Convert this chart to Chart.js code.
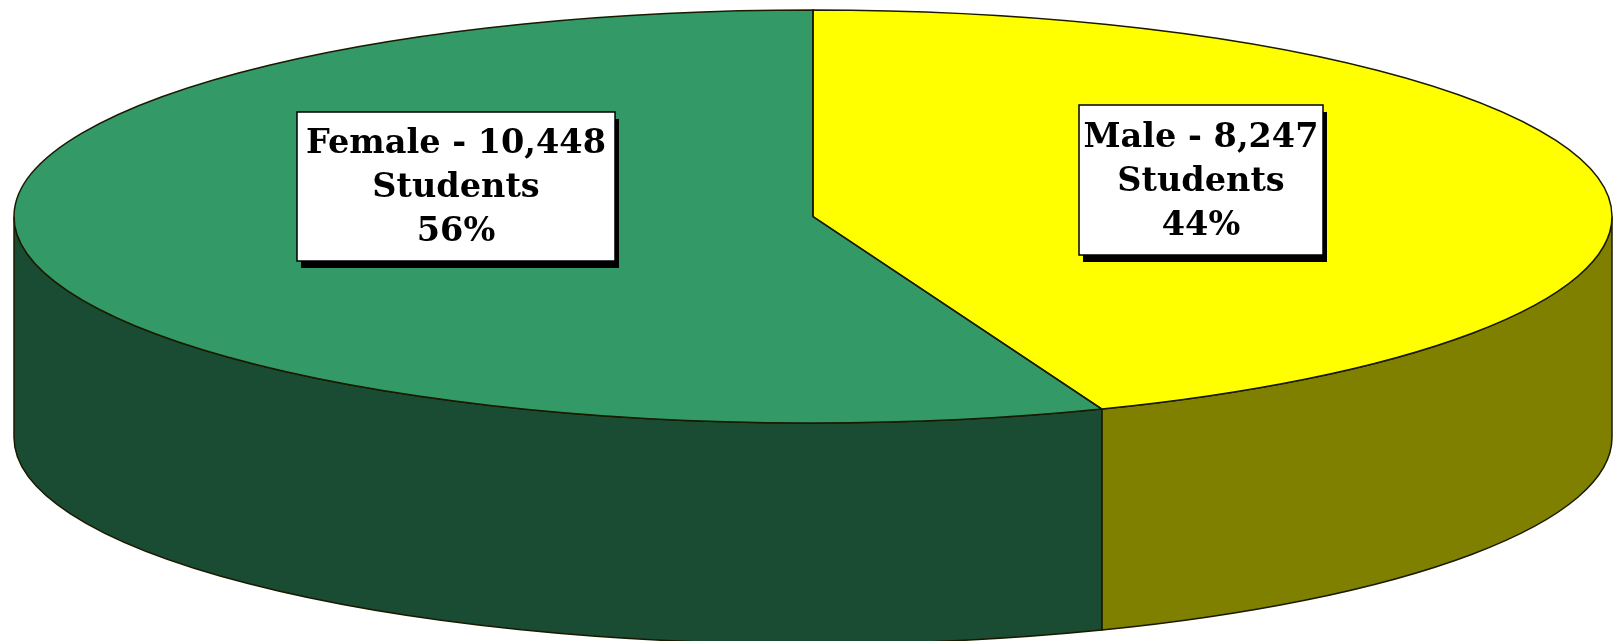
<!DOCTYPE html>
<html>
<head>
<meta charset="utf-8">
<title>Students by gender</title>
<script src="https://cdn.jsdelivr.net/npm/chart.js@4"></script>
<style>
	html, body { margin: 0; padding: 0; background: #fff; overflow: hidden; }
	canvas { display: block; filter: blur(0.6px); }
</style>
</head>
<body>
<canvas id="myCanvas" width="1614" height="641"></canvas>
<script>
// the chart values
var categories = ['Male', 'Female'];
var students = [8247, 10448];
var percents = ['44%', '56%'];
var unitLabel = 'Students';

var topColors = ['#ffff00', '#339966'];
var wallColors = ['#808000', '#1a4c33'];

// look of the fake 3D pie
var tilt = 206.5 / 799;
var depth = 221;
var outline = '#1a1a00';

// white boxes, same order as categories
var boxes = [
	{left: 1079, top: 105, right: 1323, bottom: 255, firstBase: 147, shadowX: 4, shadowY: 7},
	{left: 297, top: 112, right: 615, bottom: 261, firstBase: 153, shadowX: 4, shadowY: 7}
];

var pie3d = {
	id: 'pie3d',
	// the side walls go under the top of the pie
	beforeDatasetsDraw: function(chart) {
		var ctx = chart.ctx;
		chart.getDatasetMeta(0).data.forEach(function(arc, i) {
			var p = arc.getProps(['x', 'y', 'startAngle', 'endAngle', 'outerRadius'], true);
			var a0 = Math.max(p.startAngle, 0);
			var a1 = Math.min(p.endAngle, Math.PI);
			if (a1 <= a0) return;
			var ry = p.outerRadius * tilt;
			ctx.beginPath();
			ctx.ellipse(p.x, p.y, p.outerRadius, ry, 0, a0, a1);
			ctx.ellipse(p.x, p.y + depth, p.outerRadius, ry, 0, a1, a0, true);
			ctx.closePath();
			ctx.fillStyle = wallColors[i];
			ctx.fill();
			ctx.lineWidth = 1.5;
			ctx.strokeStyle = outline;
			ctx.stroke();
		});
	},
	// squash the round pie into an ellipse
	beforeDatasetDraw: function(chart) {
		var arc = chart.getDatasetMeta(0).data[0];
		var ctx = chart.ctx;
		ctx.save();
		ctx.translate(arc.x, arc.y);
		ctx.scale(1, tilt);
		ctx.translate(-arc.x, -arc.y);
	},
	afterDatasetDraw: function(chart) {
		chart.ctx.restore();
	},
	afterDatasetsDraw: function(chart) {
		var ctx = chart.ctx;
		// outlines of the top
		chart.getDatasetMeta(0).data.forEach(function(arc) {
			var p = arc.getProps(['x', 'y', 'startAngle', 'endAngle', 'outerRadius'], true);
			ctx.beginPath();
			ctx.moveTo(p.x, p.y);
			ctx.ellipse(p.x, p.y, p.outerRadius, p.outerRadius * tilt, 0, p.startAngle, p.endAngle);
			ctx.closePath();
			ctx.lineWidth = 1.5;
			ctx.strokeStyle = outline;
			ctx.stroke();
		});
		// label boxes
		categories.forEach(function(name, i) {
			var b = boxes[i];
			var w = b.right - b.left;
			var h = b.bottom - b.top;
			var mid = (b.left + b.right) / 2;
			ctx.fillStyle = '#000';
			ctx.fillRect(b.left + b.shadowX, b.top + b.shadowY, w, h);
			ctx.fillStyle = '#fff';
			ctx.fillRect(b.left, b.top, w, h);
			ctx.lineWidth = 1.5;
			ctx.strokeStyle = '#000';
			ctx.strokeRect(b.left, b.top, w, h);

			var lines = [name + ' - ' + students[i].toLocaleString('en-US'), unitLabel, percents[i]];
			ctx.fillStyle = '#000';
			ctx.font = 'bold 33.5px "DejaVu Serif"';
			ctx.textAlign = 'center';
			ctx.textBaseline = 'alphabetic';
			lines.forEach(function(txt, n) {
				ctx.fillText(txt, mid, b.firstBase + n * 44);
			});
		});
	}
};

var ctx = document.getElementById('myCanvas').getContext('2d');
var myChart = new Chart(ctx, {
	type: 'pie',
	data: {
		labels: categories,
		datasets: [{
			data: students,
			backgroundColor: topColors,
			borderWidth: 0,
			radius: 799,
			clip: false
		}]
	},
	options: {
		responsive: false,
		animation: false,
		devicePixelRatio: 1,
		layout: { padding: { left: 12, right: 0, top: 0, bottom: 208 } },
		plugins: {
			legend: { display: false },
			tooltip: { enabled: false }
		}
	},
	plugins: [pie3d]
});
</script>
</body>
</html>
